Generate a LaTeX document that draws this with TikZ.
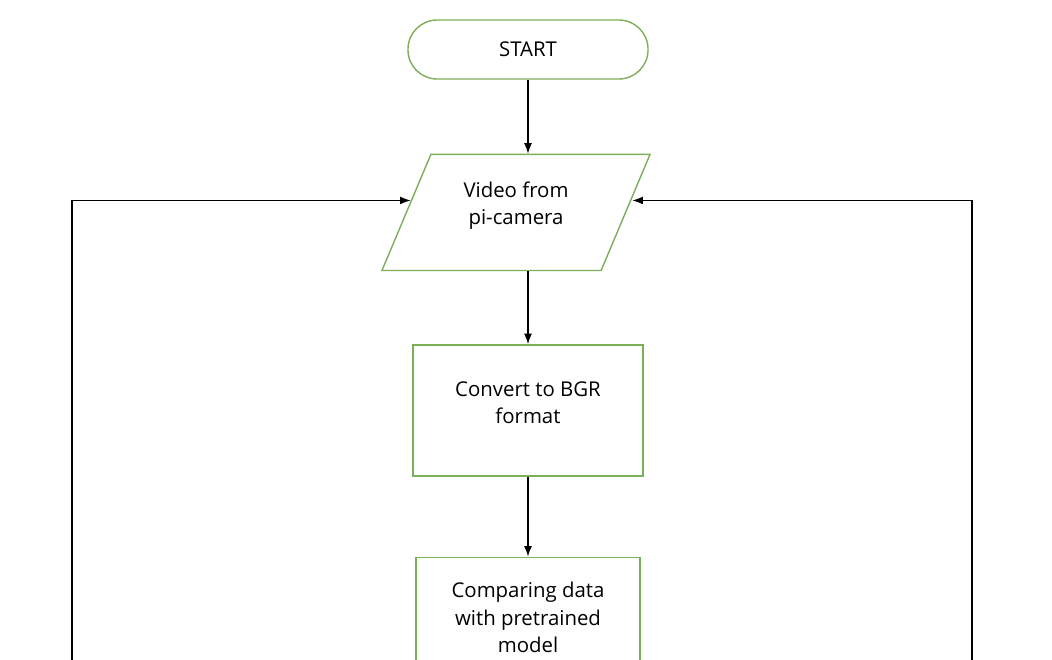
\documentclass[tikz,border=0pt]{standalone}
\usepackage{fontspec}
\setmainfont{Open Sans}
\usetikzlibrary{arrows.meta, positioning, shapes.geometric}
\definecolor{flowgreen}{RGB}{125,175,90}
\newcommand\flowfont{\fontsize{14.5}{19.5}\selectfont}
\tikzset{
  term/.style={rectangle,draw=flowgreen,line width=1pt,rounded corners=7.3mm,align=center,minimum width=60mm,minimum height=14.75mm,font=\flowfont},
  io/.style={trapezium,trapezium left angle=65,trapezium right angle=115,trapezium stretches=true,draw=flowgreen,line width=1pt,align=center,minimum width=67mm,minimum height=29mm,text depth=4.5mm,font=\flowfont},
  box/.style={rectangle,draw=flowgreen,line width=1pt,align=center,minimum width=57.5mm,minimum height=32.75mm,font=\flowfont},
  line/.style={-Latex,line width=1pt}
}

\begin{document}
\begin{tikzpicture}[x=0.025cm,y=0.025cm]
\useasboundingbox (0,0) rectangle (1052,-659);
\clip (0,0) rectangle (1052,-659);
\node[term] (start) at (528,-49.5) {START};
\node[io, below=18.5mm of start, xshift=-3mm] (video) {Video from\\pi-camera};
\node[box, below=18.25mm of video, xshift=3mm, text depth=4mm] (bgr) {Convert to BGR\\format};
\node[box, below=20mm of bgr, minimum width=56mm, minimum height=30mm] (compare) {Comparing data\\with pretrained\\model};
\coordinate (lbot) at (72,-700);
\coordinate (rbot) at (972,-700);
\draw[line] (start) -- (start |- video.north);
\draw[line] (start |- video.south) -- (bgr);
\draw[line] (bgr) -- (compare);
\draw[line] (lbot) |- ([yshift=3mm,xshift=1.25mm]video.west);
\draw[line] (rbot) |- ([yshift=3mm,xshift=1.5mm]video.east);
\end{tikzpicture}
\end{document}
